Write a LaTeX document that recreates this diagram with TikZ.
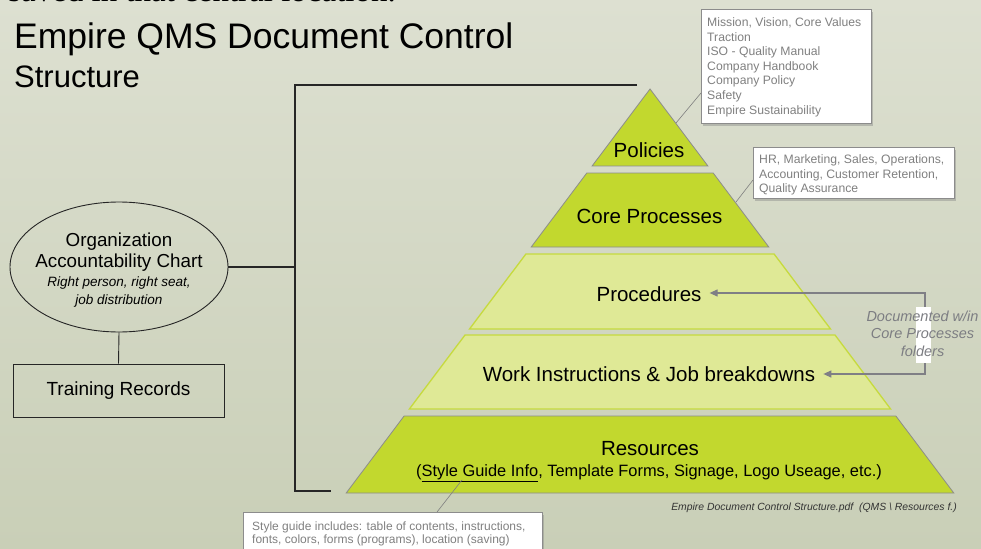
\documentclass[tikz,border=0pt]{standalone}
\usepackage{fontspec}
\setmainfont{Liberation Sans}
\newfontfamily\serifface{Liberation Serif}
\usetikzlibrary{shapes.geometric,shadows,arrows.meta}
\definecolor{bgtop}{HTML}{DDE0D1}
\definecolor{bgbot}{HTML}{C9CFB7}
\definecolor{dkgreen}{HTML}{C2D82E}
\definecolor{ltgreen}{HTML}{DFE996}
\definecolor{ltedge}{HTML}{C6DA3E}
\definecolor{edgegray}{HTML}{8C8C8C}
\definecolor{notegray}{HTML}{808080}
\definecolor{docgray}{HTML}{7C7D82}
\definecolor{arrgray}{HTML}{7F7F85}
\begin{document}
\begin{tikzpicture}[x=1pt,y=-1pt,
  dklayer/.style={fill=dkgreen, draw=edgegray, line width=0.8pt},
  ltlayer/.style={fill=ltgreen, draw=ltedge, line width=1.3pt},
  lbl/.style={font=\fontsize{20.5}{24}\selectfont, inner xsep=8pt, inner ysep=0pt, anchor=base},
  callout/.style={draw=edgegray, fill=white, line width=0.8pt,
    drop shadow={opacity=0.4, shadow xshift=2pt, shadow yshift=-2.5pt},
    inner sep=0pt, anchor=north west},
  notetext/.style={text=notegray, align=left, inner sep=0pt, anchor=north west},
  leader/.style={draw=notegray, line width=0.6pt},
  bracket/.style={draw=black!85, line width=1.3pt},
  garrow/.style={draw=arrgray, line width=1.2pt,
    {Triangle[length=8pt,width=7pt]}-{Triangle[length=8pt,width=7pt]}},
  orgline/.style={draw=black!85, line width=0.9pt}
  ]
\useasboundingbox (0,0) rectangle (981,548);
\shade[top color=bgtop, bottom color=bgbot] (0,0) rectangle (981,548);

% cut-off text at the top
\node[font=\serifface\fontsize{33}{36}\selectfont, anchor=base west, inner sep=0pt] (cut) at (8,2) {saved in that central location.};

% title
\node[font=\fontsize{35.5}{40}\selectfont, anchor=base west, inner sep=0pt] (title) at (14,49) {Empire QMS Document Control};
\node[font=\fontsize{31}{36}\selectfont, anchor=base west, inner sep=0pt] (title2) at (14,88) {Structure};

% pyramid layers
\path[dklayer] (650,89) -- (707.9,166) -- (592.1,166) -- cycle;
\path[dklayer] (586.8,173) -- (713.2,173) -- (768.8,247) -- (531.2,247) -- cycle;
\path[ltlayer] (525.9,254) -- (774.1,254) -- (830.5,329) -- (469.5,329) -- cycle;
\path[ltlayer] (465,335) -- (835,335) -- (890.6,409) -- (409.4,409) -- cycle;
\path[dklayer] (404.1,416) -- (895.9,416) -- (953.8,493) -- (346.2,493) -- cycle;

% layer labels
\node[lbl] (pol) at (649,157.4) {Policies};
\node[lbl] (core) at (649.5,223.2) {Core Processes};
\node[lbl] (proc) at (649,301.4) {Procedures};
\node[lbl] (work) at (649,381.4) {Work Instructions \& Job breakdowns};
\node[lbl] (res) at (650,455.4) {Resources};
\node[font=\fontsize{16.4}{20}\selectfont, anchor=base, inner sep=0pt] (ressub) at (649,476) {(\underline{Style Guide Info}, Template Forms, Signage, Logo Useage, etc.)};

% documented arrows
\coordinate (dA) at (925,293);
\coordinate (dB) at (925,374);
\draw[garrow] (proc.east |- dA) -- (dA) -- (dB) -- (work.east |- dB);
\fill[white] (916,307) rectangle (931,363);
\node[font=\itshape\fontsize{14.5}{17.5}\selectfont, text=docgray, align=center, inner sep=0pt] (doc) at (922.5,333.4) {Documented w/in\\Core Processes\\folders};

% caption
\node[font=\itshape\fontsize{10.4}{12}\selectfont, text=black!80, anchor=base east, inner sep=0pt] (cap) at (957,510.6) {Empire Document Control Structure.pdf\ \ (QMS \textbackslash\ Resources f.)};

% leaders
\coordinate (c1p) at (701,93);
\coordinate (polp) at (676,123);
\coordinate (c2p) at (753,180);
\coordinate (corep) at (736,202);
\coordinate (c3p) at (437,512);
\coordinate (resp) at (462,480);
\draw[leader] (polp) -- (c1p);
\draw[leader] (corep) -- (c2p);
\draw[leader] (resp) -- (c3p);

% callouts
\node[callout, minimum width=170pt, minimum height=114pt] (c1) at (701,9) {};
\node[notetext, font=\fontsize{12.2}{14.6}\selectfont] (c1t) at (707,17.5) {Mission, Vision, Core Values\\Traction\\ISO - Quality Manual\\Company Handbook\\Company Policy\\Safety\\Empire Sustainability};
\node[callout, minimum width=201pt, minimum height=51pt] (c2) at (753,147) {};
\node[notetext, font=\fontsize{12.2}{14.5}\selectfont] (c2t) at (759,154.5) {HR, Marketing, Sales, Operations,\\Accounting, Customer Retention,\\Quality Assurance};
\node[callout, minimum width=299pt, minimum height=50pt] (c3) at (243,512) {};
\node[notetext, font=\fontsize{12}{13.5}\selectfont] (c3t) at (252,521.5) {Style guide includes: table of contents, instructions,\\fonts, colors, forms (programs), location (saving)};

% bracket
\coordinate (bt) at (637,85);
\coordinate (btc) at (295,85);
\coordinate (bbc) at (295,491);
\coordinate (bb) at (331,491);
\coordinate (brk) at (295,267);
\draw[bracket] (bt) -- (btc) -- (bbc) -- (bb);

% organization chart
\node[draw=black!85, ellipse, line width=0.9pt, minimum width=218pt, minimum height=130pt, inner sep=0pt] (org) at (119,267) {};
\node[font=\fontsize{18.8}{21}\selectfont, align=center, inner sep=0pt] (orgt) at (119,252.2) {Organization\\Accountability Chart};
\node[font=\itshape\fontsize{13.5}{18}\selectfont, align=center, inner sep=0pt] (orgi) at (119,292.3) {Right person, right seat,\\job distribution};
\node[draw=black!85, line width=0.9pt, minimum width=211pt, minimum height=53pt, inner sep=0pt, font=\fontsize{19}{22}\selectfont] (tr) at (118.5,390.5) {Training Records};
\draw[orgline] (org.south) -- (tr.north);
\draw[bracket] (org.east) -- (brk);
\end{tikzpicture}
\end{document}
